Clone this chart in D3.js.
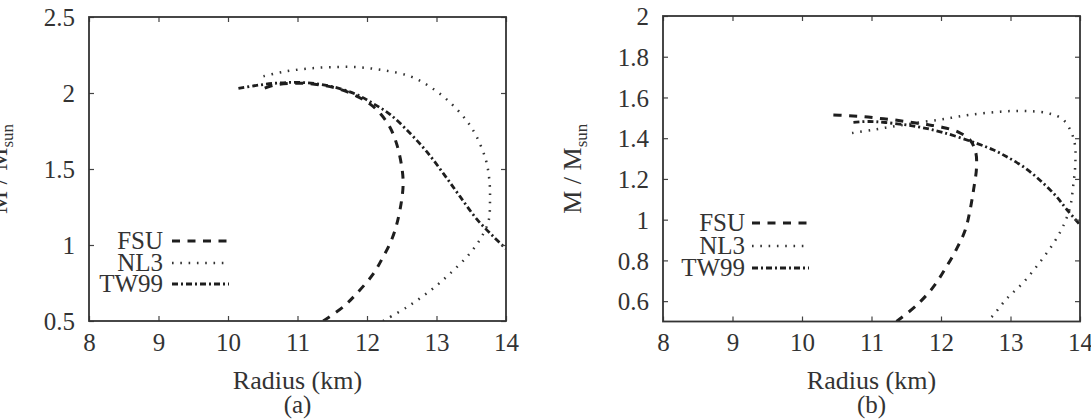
<!DOCTYPE html>
<html><head><meta charset="utf-8">
<script src="https://cdn.jsdelivr.net/npm/d3@7"></script>
<style>
body{margin:0;background:#fff}
svg{display:block}
text{fill:#333}
</style>
</head><body>
<svg id="c" width="1091" height="420"></svg>
<script>
// ---------- data ----------
const seriesNames = ["FSU", "NL3", "TW99"];
const xTicks = [8, 9, 10, 11, 12, 13, 14];
const yTicksA = [0.5, 1, 1.5, 2, 2.5];
const yTicksB = [0.6, 0.8, 1, 1.2, 1.4, 1.6, 1.8, 2];
const xDomain = [8, 14];
const yDomainA = [0.5, 2.5];
const yDomainB = [0.5, 2];
const panelLabels = ["(a)", "(b)"];
const xTitle = "Radius (km)";

// panel (a): [radius km, M/Msun]
const fsuA = [[11.37,0.5],[11.66,0.594],[11.85,0.68],[12.09,0.81],[12.23,0.92],[12.35,1.03],[12.43,1.14],[12.50,1.30],[12.52,1.41],[12.50,1.515],[12.43,1.66],[12.33,1.775],[12.2,1.86],[12.05,1.925],[11.85,1.98],[11.61,2.025],[11.37,2.05],[11.13,2.063],[10.89,2.063],[10.65,2.05],[10.46,2.02]];
const nl3A = [[12.23,0.5],[12.57,0.59],[12.91,0.70],[13.19,0.81],[13.48,0.945],[13.65,1.055],[13.75,1.16],[13.77,1.30],[13.76,1.43],[13.71,1.56],[13.58,1.71],[13.43,1.82],[13.19,1.94],[12.91,2.04],[12.62,2.11],[12.23,2.15],[11.85,2.17],[11.47,2.17],[11.13,2.16],[10.80,2.14],[10.51,2.11],[10.44,2.10]];
const tw99A = [[10.15,2.03],[10.41,2.05],[10.70,2.065],[10.99,2.07],[11.28,2.06],[11.56,2.035],[11.85,1.99],[12.09,1.93],[12.33,1.86],[12.62,1.735],[12.86,1.614],[13.10,1.47],[13.34,1.318],[13.58,1.17],[13.82,1.055],[14.0,0.975]];

// panel (b)
const fsuB = [[11.36,0.5],[11.65,0.58],[11.89,0.67],[12.08,0.77],[12.23,0.86],[12.35,0.95],[12.42,1.05],[12.47,1.15],[12.51,1.25],[12.50,1.33],[12.42,1.39],[12.25,1.43],[12.0,1.455],[11.8,1.467],[11.56,1.478],[11.32,1.49],[11.1,1.498],[10.88,1.506],[10.65,1.511],[10.38,1.515]];
const nl3B = [[10.72,1.425],[11.0,1.44],[11.3,1.457],[11.6,1.473],[11.96,1.49],[12.2,1.503],[12.42,1.515],[12.71,1.526],[12.99,1.533],[13.28,1.533],[13.57,1.52],[13.76,1.49],[13.88,1.425],[13.93,1.36],[13.93,1.26],[13.90,1.16],[13.86,1.065],[13.76,0.97],[13.62,0.885],[13.42,0.79],[13.18,0.69],[12.94,0.61],[12.75,0.53],[12.66,0.5]];
const tw99B = [[10.74,1.478],[10.97,1.482],[11.20,1.477],[11.65,1.457],[12.03,1.428],[12.51,1.375],[12.75,1.343],[12.94,1.31],[13.18,1.261],[13.42,1.195],[13.66,1.114],[13.81,1.05],[14.0,0.975]];

// ---------- layout / styles ----------
const FONT = "'Liberation Serif','Tinos','Nimbus Roman','Nimbus Roman No9 L','FreeSerif','Noto Serif','DejaVu Serif','Times New Roman',Times,serif";
const FS = 25;
const styles = {
  FSU:  {stroke:"#1e1e1e", width:3.0, dash:"8,7.5"},
  NL3:  {stroke:"#333",    width:2.5, dash:"1.6,6.7"},
  TW99: {stroke:"#1e1e1e", width:2.8, dash:"6,3,2,3"}
};

const panels = [
  {x0:89, x1:506, y0:17, y1:321, yDomain:yDomainA, yTicks:yTicksA,
   series:{FSU:fsuA, NL3:nl3A, TW99:tw99A},
   legTextX:163, legLine:[172,229], legY:[241,263,284]},
  {x0:663, x1:1080, y0:16, y1:321.5, yDomain:yDomainB, yTicks:yTicksB,
   series:{FSU:fsuB, NL3:nl3B, TW99:tw99B},
   legTextX:745, legLine:[752,809], legY:[223,246,268]}
];

const svg = d3.select("#c").attr("font-family", FONT);
const fmt = d3.format("~g");

panels.forEach((p, i) => {
  const x = d3.scaleLinear().domain(xDomain).range([p.x0, p.x1]);
  const y = d3.scaleLinear().domain(p.yDomain).range([p.y1, p.y0]);
  const g = svg.append("g");

  const clipId = "clip" + i;
  svg.append("clipPath").attr("id", clipId).append("rect")
    .attr("x", p.x0).attr("y", p.y0).attr("width", p.x1 - p.x0).attr("height", p.y1 - p.y0);

  const line = d3.line().x(d => x(d[0])).y(d => y(d[1])).curve(d3.curveCatmullRom.alpha(0.5));
  const cg = g.append("g").attr("clip-path", `url(#${clipId})`);
  seriesNames.forEach(name => {
    const st = styles[name];
    cg.append("path").datum(p.series[name]).attr("d", line)
      .attr("fill", "none").attr("stroke", st.stroke).attr("stroke-width", st.width)
      .attr("stroke-dasharray", st.dash);
  });

  const tickLen = 5;
  const xAxis = d3.axisBottom(x).tickValues(xTicks).tickSize(-tickLen).tickPadding(12).tickFormat(fmt);
  const yAxis = d3.axisLeft(y).tickValues(p.yTicks).tickSize(-tickLen).tickPadding(14).tickFormat(fmt);
  const xTop = d3.axisTop(x).tickValues(xTicks).tickSize(-tickLen).tickFormat("");
  const yRight = d3.axisRight(y).tickValues(p.yTicks).tickSize(-tickLen).tickFormat("");

  const styleAxis = sel => {
    sel.attr("font-family", FONT).attr("font-size", FS);
    sel.select(".domain").remove();
    sel.selectAll(".tick line").attr("stroke", "#444").attr("stroke-width", 1.2);
    sel.selectAll(".tick text").attr("fill", "#333");
  };
  g.append("g").attr("transform", `translate(0,${p.y1})`).call(xAxis).call(styleAxis)
    .selectAll(".tick text").attr("dy", "0.71em");
  g.append("g").attr("transform", `translate(${p.x0},0)`).call(yAxis).call(styleAxis)
    .selectAll(".tick text").attr("dy", "0.35em");
  g.append("g").attr("transform", `translate(0,${p.y0})`).call(xTop).call(styleAxis);
  g.append("g").attr("transform", `translate(${p.x1},0)`).call(yRight).call(styleAxis);

  g.append("rect").attr("x", p.x0).attr("y", p.y0).attr("width", p.x1 - p.x0).attr("height", p.y1 - p.y0)
    .attr("fill", "none").attr("stroke", "#333").attr("stroke-width", 1.8);

  const cx = (p.x0 + p.x1) / 2;
  g.append("text").attr("x", cx).attr("y", 389).attr("text-anchor", "middle").attr("font-size", FS + 1).text(xTitle);
  g.append("text").attr("x", cx).attr("y", 413).attr("text-anchor", "middle").attr("font-size", FS).text(panelLabels[i]);

  const cy = (p.y0 + p.y1) / 2;
  const yl = g.append("text").attr("transform", `translate(${p.x0 - 82},${cy}) rotate(-90)`)
    .attr("text-anchor", "middle").attr("font-size", FS + 1);
  yl.append("tspan").text("M / M");
  yl.append("tspan").attr("font-size", 17).attr("dy", 6).text("sun");

  seriesNames.forEach((name, k) => {
    const st = styles[name];
    const ly = p.legY[k];
    g.append("text").attr("x", p.legTextX).attr("y", ly + 8).attr("text-anchor", "end")
      .attr("font-size", FS).text(name);
    g.append("line").attr("x1", p.legLine[0]).attr("x2", p.legLine[1]).attr("y1", ly).attr("y2", ly)
      .attr("stroke", st.stroke).attr("stroke-width", st.width).attr("stroke-dasharray", st.dash);
  });
});
</script>
</body></html>
